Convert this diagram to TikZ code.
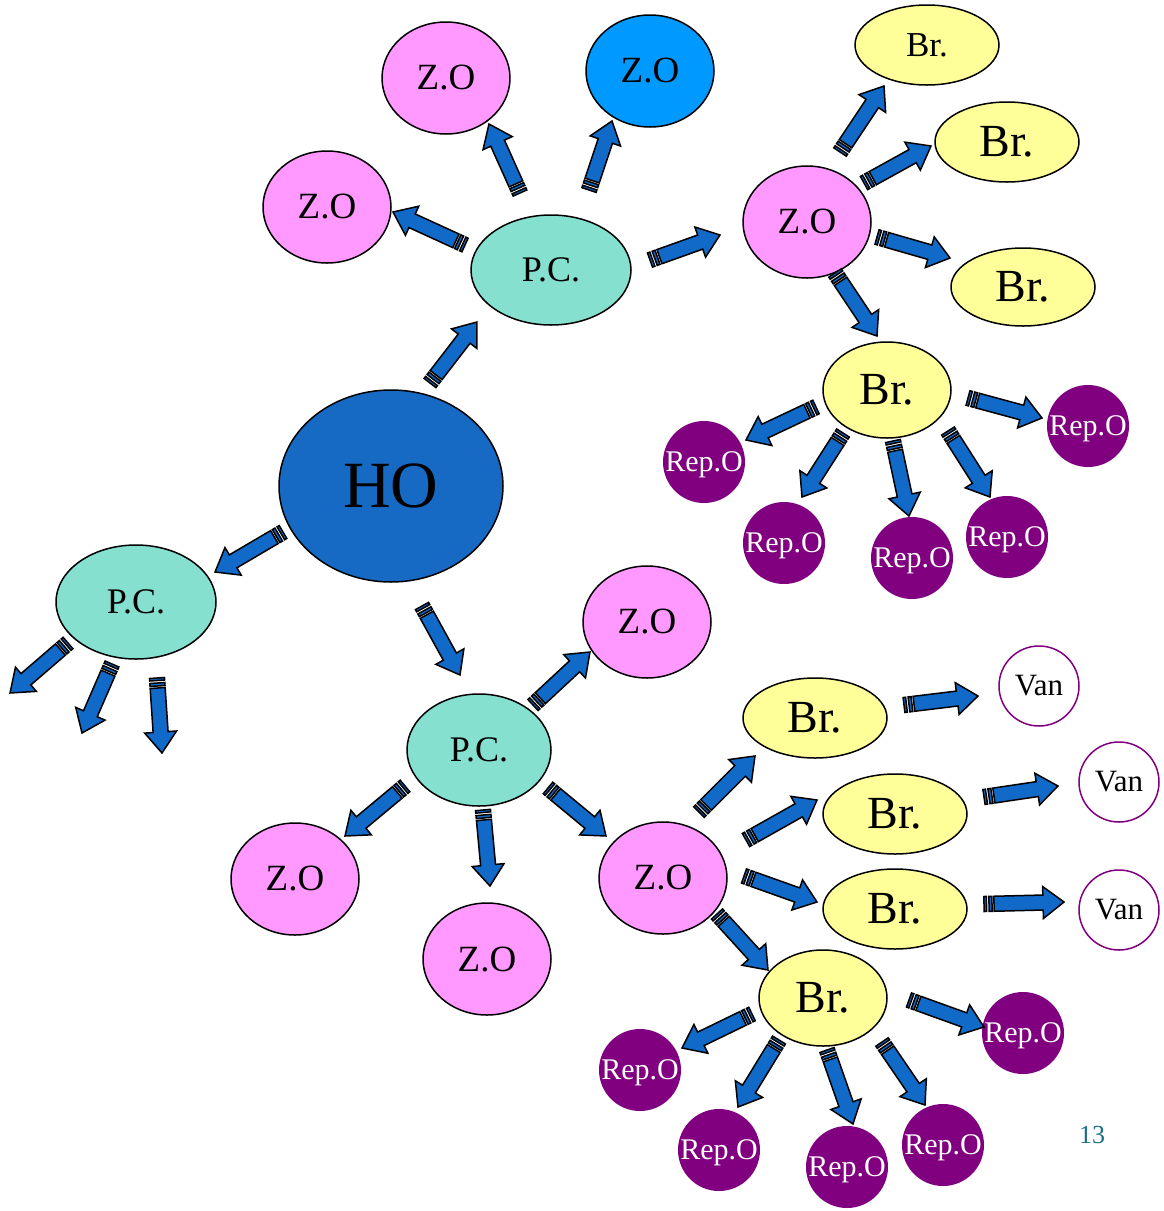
\documentclass[tikz,border=0pt]{standalone}
\usepackage{fontspec}
\setmainfont{Liberation Serif}
\usetikzlibrary{calc,shapes.geometric}

\definecolor{hoblue}{RGB}{22,106,196}
\definecolor{arrblue}{RGB}{18,106,200}
\definecolor{pcgreen}{RGB}{134,224,208}
\definecolor{zopink}{RGB}{255,153,255}
\definecolor{zoblue}{RGB}{0,153,255}
\definecolor{bryellow}{RGB}{255,255,153}
\definecolor{reppurple}{RGB}{128,0,128}
\definecolor{pagenum}{RGB}{27,110,138}

\tikzset{
  bubble/.style={ellipse, draw=black, line width=1.5pt, inner sep=0pt},
  honode/.style={bubble, fill=hoblue, minimum width=224pt, minimum height=192pt, font=\fontsize{66}{66}\selectfont},
  pcnode/.style={bubble, fill=pcgreen, minimum width=160pt, minimum height=110pt, font=\fontsize{36}{36}\selectfont},
  zonode/.style={bubble, fill=zopink, minimum width=128pt, minimum height=112pt, font=\fontsize{37}{37}\selectfont},
  brnode/.style={bubble, fill=bryellow, minimum width=144pt, minimum height=80pt, font=\fontsize{46}{46}\selectfont},
  repnode/.style={circle, fill=reppurple, text=white, inner sep=0pt, minimum size=82pt, text depth=0pt, font=\fontsize{30}{30}\selectfont},
  vannode/.style={circle, draw=reppurple, fill=white, line width=1.5pt, inner sep=0pt, minimum size=80pt, font=\fontsize{31}{31}\selectfont},
  blockarrow/.style={draw=black, fill=arrblue, line width=1.5pt, line join=miter}
}

% striped block arrow: source node, tail offset, target node, tip offset
\newcommand\sarr[4]{%
  \path ($(#1)+(#2)$); \pgfgetlastxy\sax\say
  \path ($(#3)+(#4)$); \pgfgetlastxy\sbx\sby
  \pgfmathsetmacro\sang{atan2((\sby)-(\say),(\sbx)-(\sax))}%
  \pgfmathsetmacro\slen{veclen((\sbx)-(\sax),(\sby)-(\say))}%
  \begin{scope}[shift={(\sax,\say)}, rotate=\sang]
    \draw[blockarrow] (10pt,-7.5pt) -- (\slen pt-21pt,-7.5pt) -- (\slen pt-21pt,-16pt)
      -- (\slen pt,0pt) -- (\slen pt-21pt,16pt) -- (\slen pt-21pt,7.5pt) -- (10pt,7.5pt) -- cycle;
    \draw[blockarrow] (0pt,-7.5pt) rectangle (2.5pt,7.5pt);
    \draw[blockarrow] (5pt,-7.5pt) rectangle (8pt,7.5pt);
  \end{scope}}

\begin{document}
\begin{tikzpicture}[x=1pt, y=-1pt]
	\fill[white] (0,0) rectangle (1163,1211);
	\useasboundingbox (0,0) rectangle (1163,1211);
	
	% Centre
	\node[honode] (ho) at (391,486) {HO};
	
	% Upper branch
	\node[pcnode] (pcT) at (551,270) {P.C.};
	\node[zonode] (zoL) at (327,207) {Z.O};
	\node[zonode] (zoM) at (446,78) {Z.O};
	\node[zonode, fill=zoblue] (zoB) at (650,71) {Z.O};
	\node[zonode] (zoR) at (807,222) {Z.O};
	\node[brnode, minimum width=144pt, font=\fontsize{35}{35}\selectfont] (brA) at (927,45) {Br.};
	\node[brnode] (brB) at (1007,142) {Br.};
	\node[brnode, minimum height=78pt] (brC) at (1023,287) {Br.};
	\node[brnode, minimum width=128pt, minimum height=96pt] (brD) at (887,390) {Br.};
	\node[repnode] (rA) at (1088,426) {Rep.O};
	\node[repnode] (rB) at (704,462) {Rep.O};
	\node[repnode] (rC) at (784,543) {Rep.O};
	\node[repnode] (rD) at (912,558) {Rep.O};
	\node[repnode] (rE) at (1007,537) {Rep.O};
	
	% Left branch
	\node[pcnode, minimum height=114pt] (pcL) at (136,602) {P.C.};
	\coordinate (endA) at (10,693);
	\coordinate (endB) at (82,733);
	\coordinate (endC) at (162,753);
	
	% Lower branch
	\node[pcnode, minimum width=144pt, minimum height=112pt] (pcB) at (479,750) {P.C.};
	\node[zonode] (zoE) at (647,622) {Z.O};
	\node[zonode] (zoF) at (295,879) {Z.O};
	\node[zonode] (zoG) at (487,959) {Z.O};
	\node[zonode] (zoH) at (663,878) {Z.O};
	\node[brnode] (brE) at (815,718) {Br.};
	\node[brnode] (brF) at (895,814) {Br.};
	\node[brnode] (brG) at (895,909) {Br.};
	\node[brnode, minimum width=128pt, minimum height=96pt] (brH) at (823,998) {Br.};
	\node[vannode] (vA) at (1039,686) {Van};
	\node[vannode] (vB) at (1119,782) {Van};
	\node[vannode] (vC) at (1119,910) {Van};
	\node[repnode] (rF) at (1023,1033) {Rep.O};
	\node[repnode] (rG) at (640,1070) {Rep.O};
	\node[repnode] (rH) at (719,1150) {Rep.O};
	\node[repnode] (rI) at (847,1167) {Rep.O};
	\node[repnode] (rJ) at (943,1145) {Rep.O};
	
	% Arrows, upper branch
	\sarr{ho}{39,-103}{pcT}{-74,52}
	\sarr{pcT}{-86,-25}{zoL}{66,5}
	\sarr{pcT}{-31,-77}{zoM}{43,46}
	\sarr{pcT}{38,-80}{zoB}{-38,50}
	\sarr{pcT}{99,-10}{zoR}{-87,13}
	\sarr{zoR}{33,-70}{brA}{-43,41}
	\sarr{zoR}{57,-39}{brB}{-76,4}
	\sarr{zoR}{70,15}{brC}{-73,-29}
	\sarr{zoR}{28,51}{brD}{-10,-54}
	\sarr{brD}{81,8}{rA}{-46,-8}
	\sarr{brD}{-71,17}{rB}{42,-22}
	\sarr{brD}{-44,43}{rC}{18,-46}
	\sarr{brD}{6,51}{rD}{-3,-42}
	\sarr{brD}{61,41}{rE}{-17,-40}
	
	% Arrows, left branch
	\sarr{ho}{-108,46}{pcL}{79,-30}
	\sarr{pcL}{-68,41}{endA}{0,0}
	\sarr{pcL}{-24,62}{endB}{0,0}
	\sarr{pcL}{21,76}{endC}{0,0}
	
	% Arrows, lower branch
	\sarr{ho}{31,120}{pcB}{-19,-75}
	\sarr{pcB}{54,-45}{zoE}{-57,30}
	\sarr{pcB}{-74,36}{zoF}{50,-43}
	\sarr{pcB}{4,60}{zoG}{3,-73}
	\sarr{pcB}{69,38}{zoH}{-57,-42}
	\sarr{zoH}{36,-66}{brE}{-60,38}
	\sarr{zoH}{83,-38}{brF}{-78,-14}
	\sarr{zoH}{81,-2}{brG}{-78,-7}
	\sarr{zoH}{54,36}{brH}{-55,-28}
	\sarr{brE}{89,-13}{vA}{-61,10}
	\sarr{brF}{89,-17}{vB}{-61,4}
	\sarr{brG}{89,-5}{vC}{-55,-8}
	\sarr{brH}{86,2}{rF}{-39,-6}
	\sarr{brH}{-71,16}{rG}{42,-22}
	\sarr{brH}{-44,42}{rH}{19,-43}
	\sarr{brH}{4,52}{rI}{6,-43}
	\sarr{brH}{59,44}{rJ}{-18,-40}
	
	% Page number
	\node[text=pagenum, font=\fontsize{26}{26}\selectfont] (pagenr) at (1092,1135) {13};
\end{tikzpicture}
\end{document}
